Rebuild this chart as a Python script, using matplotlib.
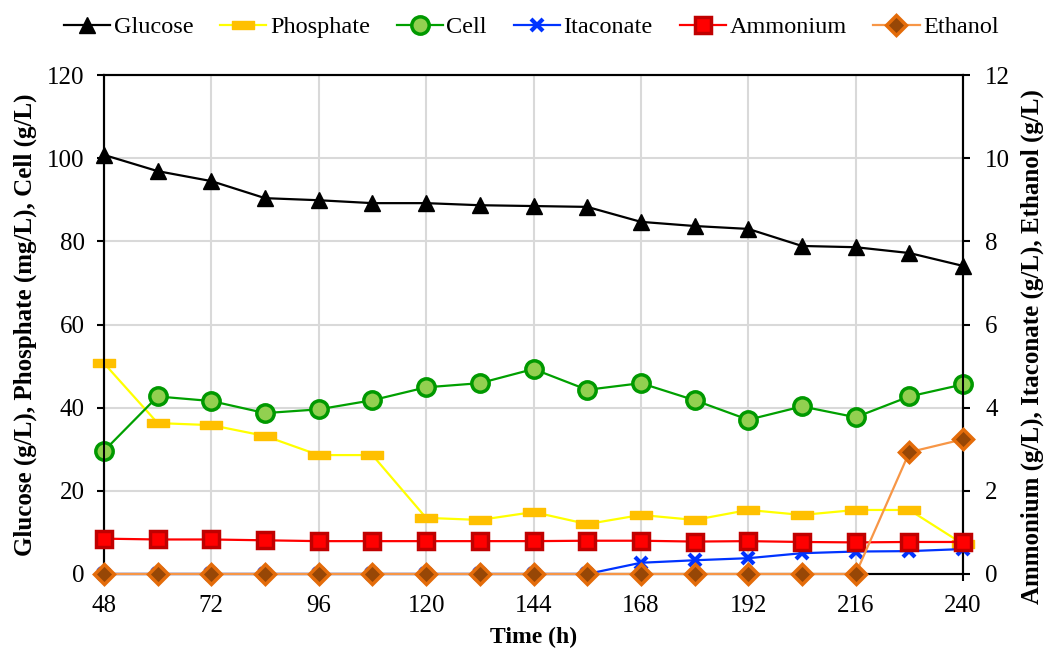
import matplotlib
matplotlib.use("Agg")
import matplotlib.pyplot as plt
from matplotlib.path import Path

plt.rcParams['font.family'] = ['Liberation Serif', 'DejaVu Serif']

time_h = [48, 60, 72, 84, 96, 108, 120, 132, 144, 156, 168, 180, 192, 204, 216, 228, 240]

glucose = [100.8, 96.9, 94.5, 90.4, 89.9, 89.2, 89.2, 88.7, 88.5, 88.3, 84.7, 83.7, 83.0, 78.9, 78.6, 77.2, 74.1]
phosphate = [50.7, 36.3, 35.8, 33.2, 28.6, 28.6, 13.5, 13.0, 14.9, 12.0, 14.2, 13.0, 15.4, 14.2, 15.4, 15.4, 7.2]
cell = [29.6, 42.7, 41.6, 38.7, 39.6, 41.8, 44.9, 45.9, 49.3, 44.3, 45.9, 41.8, 37.1, 40.3, 37.7, 42.7, 45.6]
itaconate = [0, 0, 0, 0, 0, 0, 0, 0, 0, 0, 0.27, 0.33, 0.38, 0.50, 0.54, 0.55, 0.60]
ammonium = [0.85, 0.83, 0.83, 0.81, 0.79, 0.79, 0.79, 0.79, 0.79, 0.80, 0.80, 0.78, 0.79, 0.77, 0.76, 0.77, 0.77]
ethanol = [0, 0, 0, 0, 0, 0, 0, 0, 0, 0, 0, 0, 0, 0, 0, 2.93, 3.24]

x_ticks = [48, 72, 96, 120, 144, 168, 192, 216, 240]
left_ticks = [0, 20, 40, 60, 80, 100, 120]
right_ticks = [0, 2, 4, 6, 8, 10, 12]

# wide flat bar used as the phosphate marker
bar_marker = Path([(-1, -0.33), (1, -0.33), (1, 0.33), (-1, 0.33), (-1, -0.33)],
                  [Path.MOVETO, Path.LINETO, Path.LINETO, Path.LINETO, Path.CLOSEPOLY])

fig = plt.figure(figsize=(10.46, 6.53), dpi=100)
ax = fig.add_axes([0.0994, 0.121, 0.8213, 0.764])
ax2 = ax.twinx()

TICK_FS = 18
LABEL_FS = 18
LEG_FS = 17.5

l1, = ax.plot(time_h, glucose, color='black', lw=1.6, marker='^', ms=11,
              mfc='black', mec='black', clip_on=False, zorder=5)
l2, = ax.plot(time_h, phosphate, color='#FFFF00', lw=1.6, marker=bar_marker, ms=16,
              mfc='#FFC000', mec='#FFC000', mew=1, clip_on=False, zorder=4)
l3, = ax.plot(time_h, cell, color='#00A000', lw=1.6, marker='o', ms=12.5,
              mfc='#92D050', mec='#009900', mew=2.5, clip_on=False, zorder=6)

l4, = ax2.plot(time_h, itaconate, color='#0033FF', lw=1.6, marker='x', ms=9,
               mec='#0033FF', mew=3, clip_on=False, zorder=4)
l5, = ax2.plot(time_h, ammonium, color='#FF0000', lw=1.6, marker='s', ms=12,
               mfc='#FF0000', mec='#C00000', mew=2.5, clip_on=False, zorder=5)
l6, = ax2.plot(time_h, ethanol, color='#F79646', lw=1.6, marker='D', ms=10,
               mfc='#974706', mec='#E46C0A', mew=2.5, clip_on=False, zorder=6)

ax.set_xlim(48, 240)
ax.set_ylim(0, 120)
ax2.set_ylim(0, 12)
ax.set_xticks(x_ticks)
ax.set_yticks(left_ticks)
ax2.set_yticks(right_ticks)

ax.grid(True, color='#D9D9D9', lw=1.5)
ax.set_axisbelow(True)

for a in (ax, ax2):
    for s in a.spines.values():
        s.set_linewidth(1.5)
    a.tick_params(labelsize=TICK_FS, width=1.5, length=5, direction='out', pad=9)
ax.tick_params(axis='x', pad=10)
ax2.tick_params(axis='y', pad=11)

ax.set_xlabel('Time (h)', fontsize=17, fontweight='bold', va='center')
ax.xaxis.set_label_coords(0.5, -0.128)
ax.set_ylabel('Glucose (g/L), Phosphate (mg/L), Cell (g/L)', fontsize=LABEL_FS,
              fontweight='bold', va='center')
ax.yaxis.set_label_coords(-0.092, 0.5)
ax2.set_ylabel('Ammonium (g/L), Itaconate (g/L), Ethanol (g/L)', fontsize=LABEL_FS,
               fontweight='bold', rotation=90, va='center')
ax2.yaxis.set_label_coords(1.081, 0.455)

fig.legend([l1, l2, l3, l4, l5, l6],
           ['Glucose', 'Phosphate', 'Cell', 'Itaconate', 'Ammonium', 'Ethanol'],
           loc='center', bbox_to_anchor=(0.508, 0.958), ncol=6, frameon=False,
           fontsize=LEG_FS, handlelength=1.9, handletextpad=0.15, columnspacing=1.1)

fig.savefig('out.png', dpi=100)
